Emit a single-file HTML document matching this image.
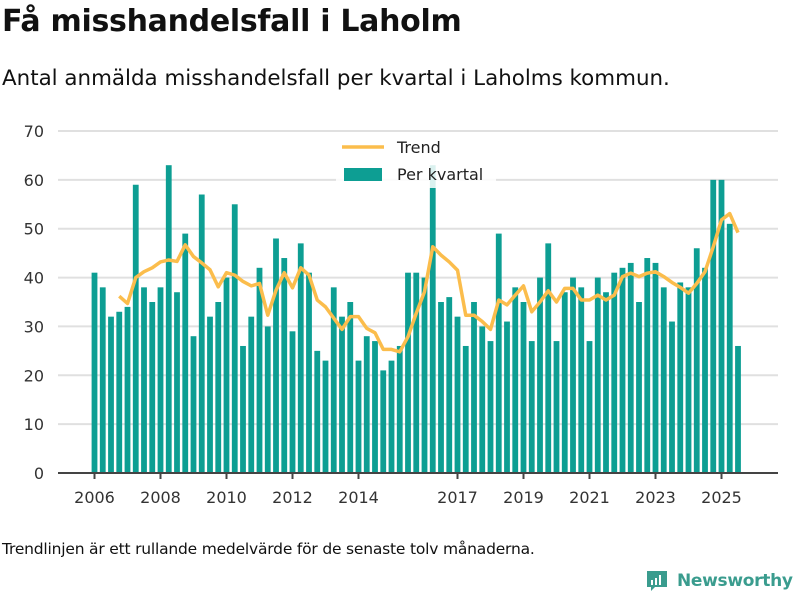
<!DOCTYPE html>
<html><head><meta charset="utf-8"><style>
body{margin:0;width:800px;height:600px;background:#fff;font-family:"DejaVu Sans","Liberation Sans",sans-serif;color:#111;overflow:hidden;position:relative}
#title{position:absolute;left:2px;top:4px;font-size:30px;font-weight:bold;margin:0;letter-spacing:-0.3px}
#sub{position:absolute;left:2px;top:66px;font-size:21.4px}
#note{position:absolute;left:2px;top:540px;font-size:15.5px;letter-spacing:-0.2px}
#logo{position:absolute;left:645px;top:569px;font-size:17px;font-weight:bold;color:#3a9c8e;display:flex;align-items:center;gap:8px;letter-spacing:-0.3px}
svg{position:absolute;left:0;top:0}
</style></head><body>
<h1 id="title">Få misshandelsfall i Laholm</h1>
<div id="sub">Antal anmälda misshandelsfall per kvartal i Laholms kommun.</div>
<div id="note">Trendlinjen är ett rullande medelvärde för de senaste tolv månaderna.</div>
<div id="logo"><svg style="position:static" width="24" height="24" viewBox="0 0 24 24"><path d="M2 2h20v16h-12l-4 4v-4h-4z" fill="#3a9c8e"/><rect x="6" y="11" width="2" height="5" fill="#fff"/><rect x="10" y="9" width="2" height="7" fill="#fff"/><rect x="14" y="6" width="2" height="10" fill="#fff"/></svg><span>Newsworthy</span></div>
<svg id="chart" width="800" height="600"></svg>
<script>
const values=[41,38,32,33, 34,59,38,35, 38,63,37,49, 28,57,32,35, 40,55,26,32, 42,30,48,44, 29,47,41,25, 23,38,32,35, 23,28,27,21, 23,26,41,41, 40,63,35,36, 32,26,35,30, 27,49,31,38, 35,27,40,47, 27,37,40,38, 27,40,37,41, 42,43,35,44, 43,38,31,39, 38,46,42,60, 60,51,26];
const trendStart=3;
const trend=[36.2,34.7,40,41.2,42,43.2,43.6,43.3,46.7,44.3,43,41.6,38.1,41,40.5,39.2,38.3,38.8,32.3,37.4,41,37.9,42,40.5,35.4,34,31.7,29.4,32,32,29.6,28.7,25.3,25.3,24.8,27.9,32.7,37.1,46.3,44.6,43.2,41.5,32.3,32.3,31,29.4,35.4,34.4,36.4,38.3,33,35,37.3,35,37.8,37.8,35.4,35.4,36.4,35.4,36.4,40.2,40.9,40.2,40.9,41.2,40.2,39,38,36.8,38.8,41.2,46.3,51.8,53.1,49.2];
const yTicks=[0,10,20,30,40,50,60,70];
const xLabels=[2006,2008,2010,2012,2014,2017,2019,2021,2023,2025];
const startYear=2006;
const NS="http://www.w3.org/2000/svg";
const svg=document.getElementById('chart');
const x0=94.5,qw=8.25,yBase=473,yPer=342/70;
const xs=i=>x0+i*qw;
const ys=v=>yBase-v*yPer;
function mk(t,a){const e=document.createElementNS(NS,t);for(const k in a)e.setAttribute(k,a[k]);svg.appendChild(e);return e;}
yTicks.forEach(t=>{
  if(t>0){const g=mk('line',{x1:58,x2:778,y1:ys(t),y2:ys(t),stroke:'#e0e0e0','stroke-width':2});
  
  }
  const l=mk('text',{x:44,y:ys(t)+6,'text-anchor':'end','font-size':16,fill:'#333'});l.textContent=t;
  
  
});
values.forEach((v,i)=>{
  const r=mk('rect',{x:xs(i)-2.9,y:ys(v),width:5.8,height:yBase-ys(v),fill:'#0d9e93'});
  
  
});
const ax=mk('line',{x1:58,x2:778,y1:yBase,y2:yBase,stroke:'#444','stroke-width':2});


xLabels.forEach(yr=>{
  const x=xs((yr-startYear)*4);
  const tk=mk('line',{x1:x,x2:x,y1:yBase,y2:yBase+6,stroke:'#444','stroke-width':2});
  
  
  const l=mk('text',{x:x,y:yBase+30,'text-anchor':'middle','font-size':16,fill:'#333'});l.textContent=yr;
  
  
});
const pts=trend.map((v,i)=>xs(i+trendStart)+','+ys(v)).join(' ');
const tl=mk('polyline',{points:pts,fill:'none',stroke:'#fbbd4c','stroke-width':3.5,'stroke-linejoin':'round'});


const lb=mk('rect',{x:336,y:132,width:160,height:56,fill:'#fff','fill-opacity':0.85});


const l1=mk('line',{x1:342,x2:384,y1:147,y2:147,stroke:'#fbbd4c','stroke-width':3.5});


const t1=mk('text',{x:397,y:153,'font-size':16,fill:'#222'});t1.textContent='Trend';


const r2=mk('rect',{x:344,y:168,width:38,height:13,fill:'#0d9e93'});


const t2=mk('text',{x:397,y:180,'font-size':16,fill:'#222'});t2.textContent='Per kvartal';


</script>
</body></html>
